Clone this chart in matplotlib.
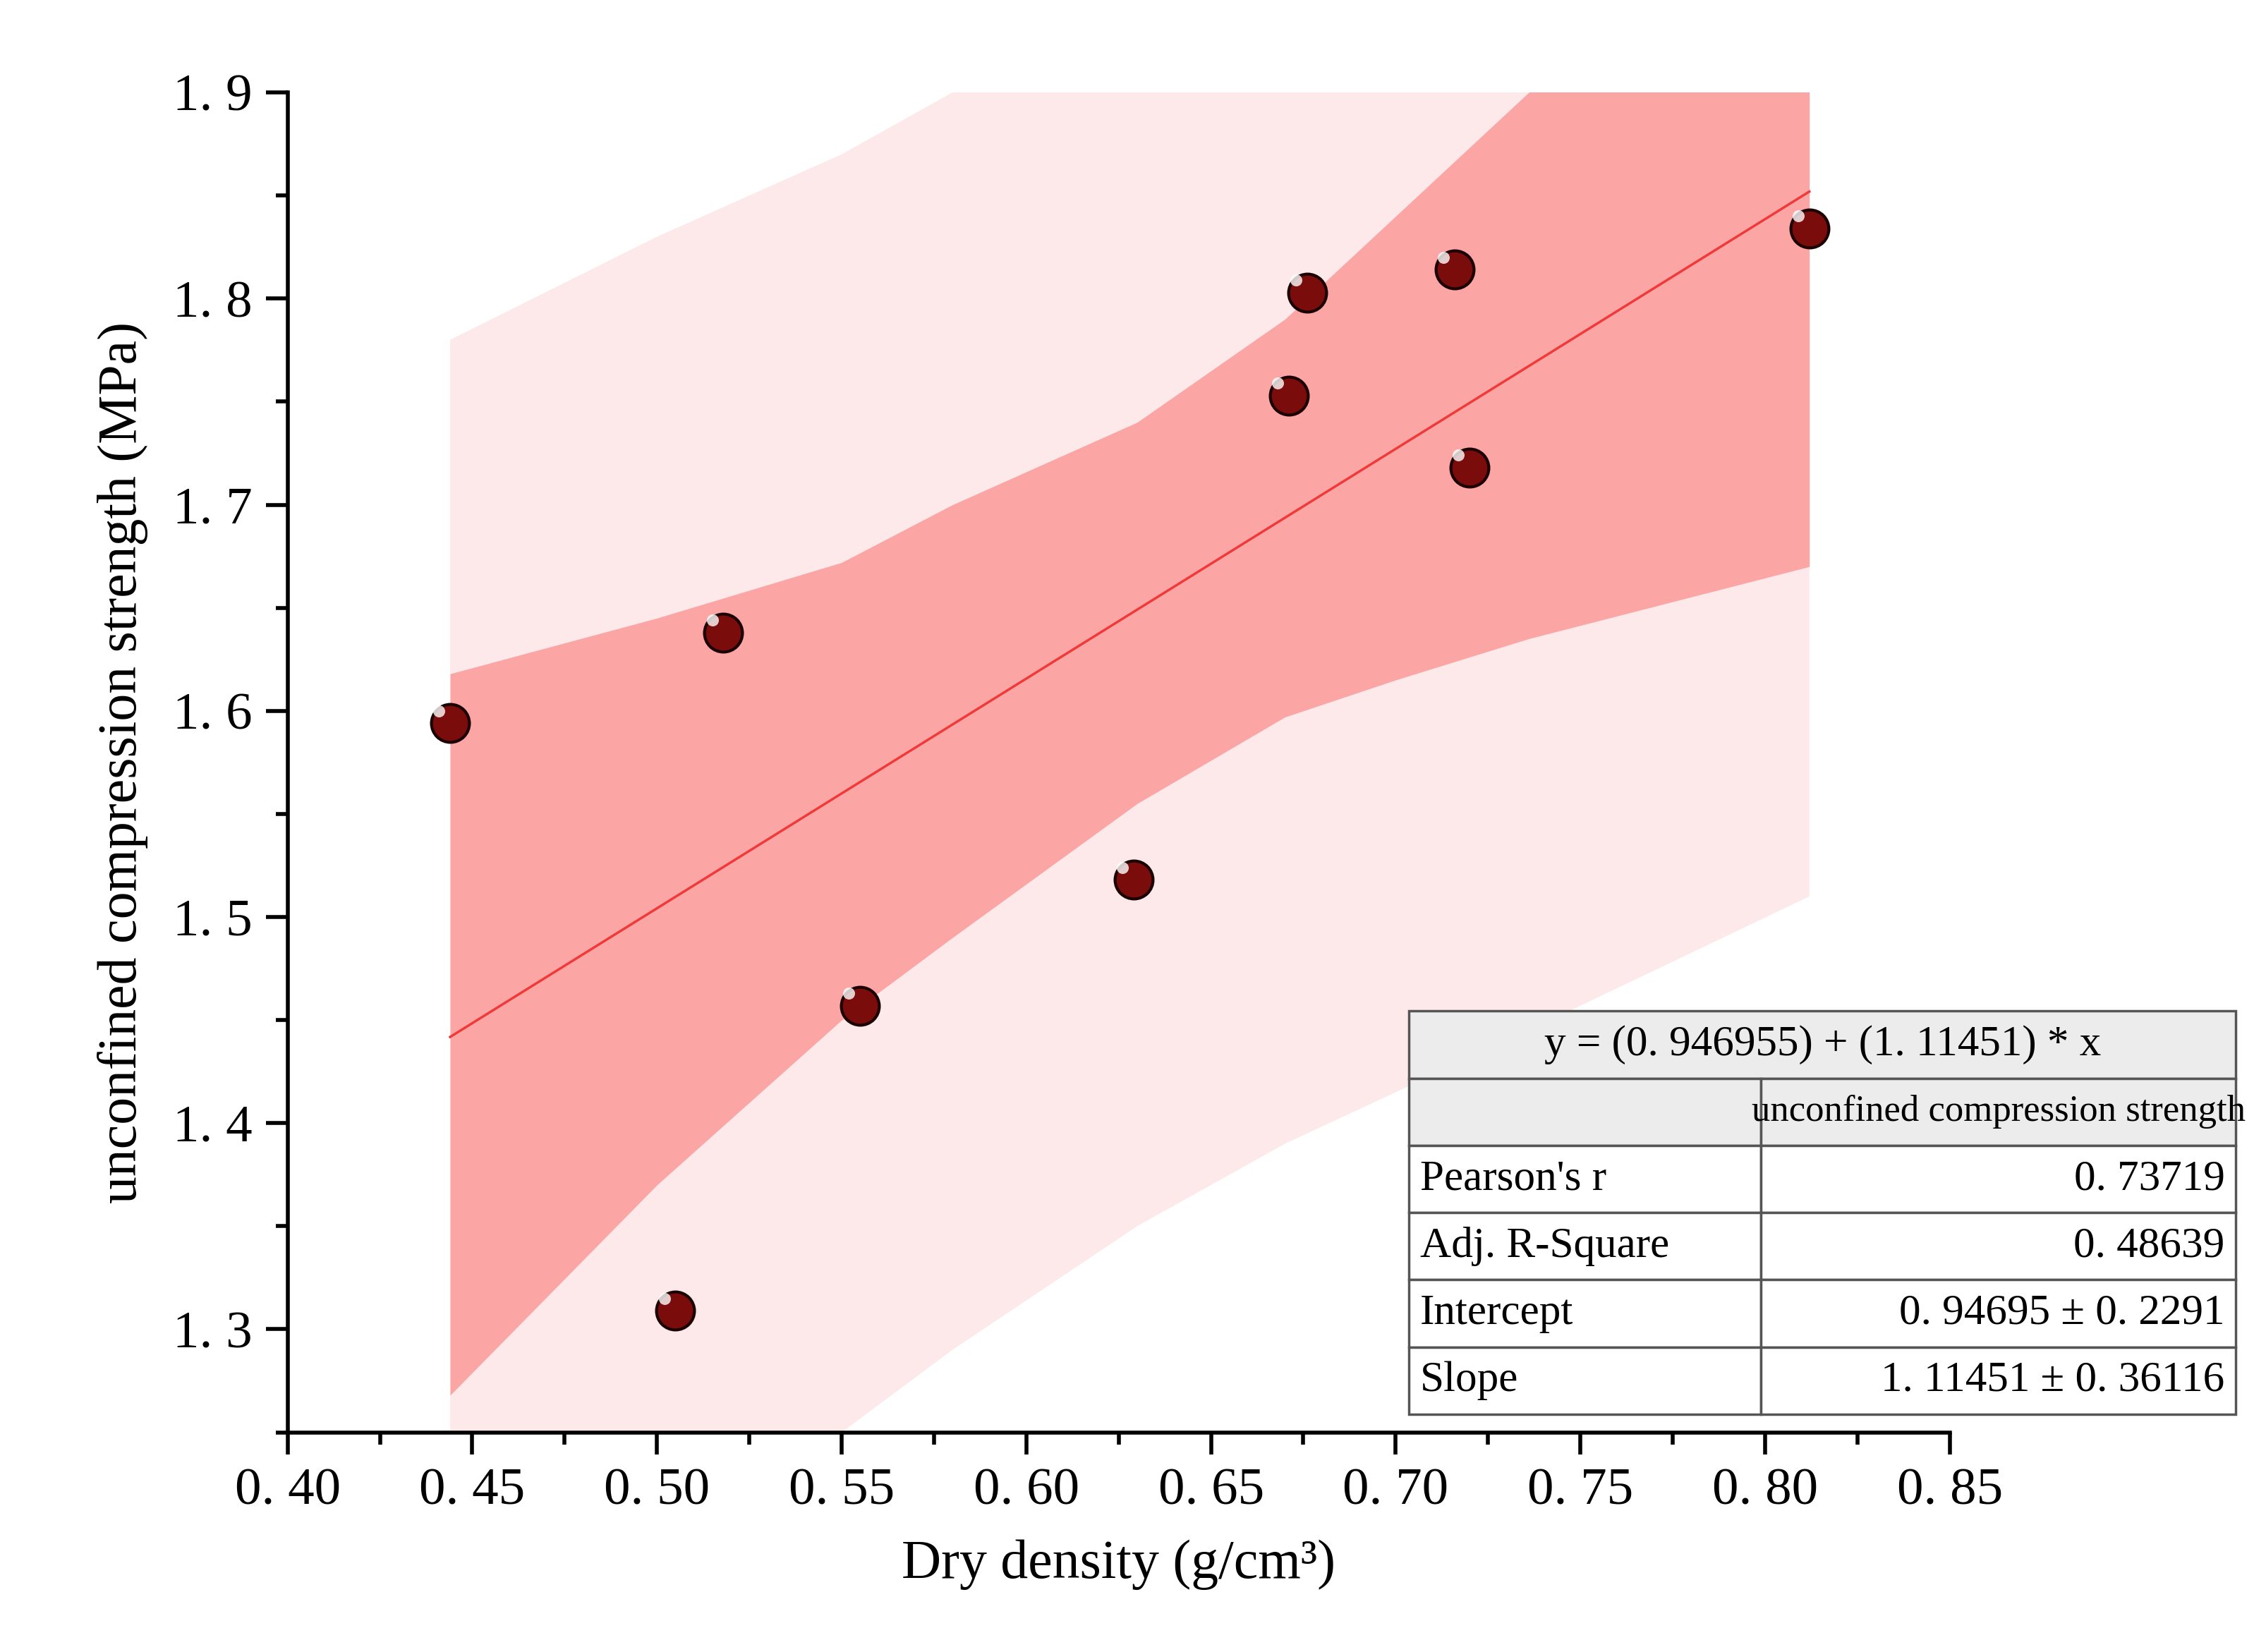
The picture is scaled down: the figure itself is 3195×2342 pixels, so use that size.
import matplotlib
matplotlib.use('Agg')
import matplotlib.pyplot as plt
from matplotlib.ticker import MultipleLocator
from matplotlib.patches import Rectangle

# measured points
density = [0.444, 0.505, 0.518, 0.555, 0.629, 0.671, 0.676, 0.716, 0.720, 0.812]
strength = [1.594, 1.309, 1.638, 1.457, 1.518, 1.753, 1.803, 1.814, 1.718, 1.834]

# fit line
intercept = 0.946955
slope = 1.11451
fit_x = [0.444, 0.812]

# bands
band_x = [0.444, 0.50, 0.55, 0.58, 0.63, 0.67, 0.70, 0.736, 0.812]
conf_lo = [1.268, 1.37, 1.45, 1.49, 1.555, 1.597, 1.615, 1.635, 1.670]
conf_hi = [1.618, 1.645, 1.672, 1.70, 1.740, 1.790, 1.840, 1.90, 1.99]
pred_lo = [1.10, 1.18, 1.25, 1.29, 1.35, 1.39, 1.415, 1.445, 1.510]
pred_hi = [1.780, 1.83, 1.87, 1.90, 1.96, 2.00, 2.03, 2.06, 2.12]

x_ticks = [0.40, 0.45, 0.50, 0.55, 0.60, 0.65, 0.70, 0.75, 0.80, 0.85]
y_ticks = [1.3, 1.4, 1.5, 1.6, 1.7, 1.8, 1.9]

equation = "y = (0. 946955) + (1. 11451) * x"
row_names = ["", "Pearson's r", "Adj. R-Square", "Intercept", "Slope"]
row_values = ["unconfined compression strength", "0. 73719", "0. 48639",
              "0. 94695 ± 0. 2291", "1. 11451 ± 0. 36116"]

plt.rcParams['font.family'] = ['Liberation Serif', 'DejaVu Serif']

fig = plt.figure(figsize=(31.95, 23.42), dpi=100)
ax = fig.add_axes([0.1276, 0.133, 0.7374, 0.811])

ax.fill_between(band_x, pred_lo, pred_hi, color='#fde9e9', lw=0, zorder=1)
ax.fill_between(band_x, conf_lo, conf_hi, color='#fca5a5', lw=0, zorder=2)
ax.plot(fit_x, [intercept + slope * v for v in fit_x], color='#f03a3a', lw=2.5, zorder=3)
ax.scatter(density, strength, s=1500, color='#7a0c0c', edgecolors='#1a0000', linewidths=3, zorder=4)
ax.scatter([d - 0.003 for d in density], [s + 0.006 for s in strength], s=150, color='white', alpha=0.8, lw=0, zorder=5)

ax.set_xlim(0.40, 0.85)
ax.set_ylim(1.25, 1.9)
ax.set_xticks(x_ticks)
ax.set_xticklabels([f"{v:.2f}".replace('.', '. ') for v in x_ticks])
ax.set_yticks(y_ticks)
ax.set_yticklabels([f"{v:.1f}".replace('.', '. ') for v in y_ticks])
ax.xaxis.set_minor_locator(MultipleLocator(0.025))
ax.yaxis.set_minor_locator(MultipleLocator(0.05))
for s in ['top', 'right']:
    ax.spines[s].set_visible(False)
for s in ['left', 'bottom']:
    ax.spines[s].set_linewidth(4)
ax.tick_params(which='major', length=22, width=4, labelsize=54, pad=14)
ax.tick_params(which='minor', length=12, width=4)
ax.set_xlabel("Dry density (g/cm³)", fontsize=56, labelpad=25)
ax.set_ylabel("unconfined compression strength (MPa)", fontsize=56, labelpad=25)

# stats table, drawn in figure coordinates
left, right, top, bottom = 0.625, 0.992, 0.388, 0.144
split = left + 0.426 * (right - left)
nrows = 6
rh = (top - bottom) / nrows
kw = dict(transform=fig.transFigure, fill=True, lw=2.5, ec='#555555')
fig.patches.append(Rectangle((left, top - rh), right - left, rh, fc='#ececec', **kw))
fig.text((left + right) / 2, top - rh / 2, equation, ha='center', va='center', fontsize=44)
for i in range(5):
    y0 = top - rh * (i + 2)
    fc = '#ececec' if i == 0 else 'white'
    fig.patches.append(Rectangle((left, y0), split - left, rh, fc=fc, **kw))
    fig.patches.append(Rectangle((split, y0), right - split, rh, fc=fc, **kw))
    fig.text(left + 0.005, y0 + rh / 2, row_names[i], ha='left', va='center', fontsize=44)
    if i == 0:
        fig.text((split + right) / 2, y0 + rh / 2, row_values[i], ha='center', va='center',
                 fontsize=38, stretch='condensed')
    else:
        fig.text(right - 0.005, y0 + rh / 2, row_values[i], ha='right', va='center', fontsize=44)

fig.savefig('out.png', dpi=100)
